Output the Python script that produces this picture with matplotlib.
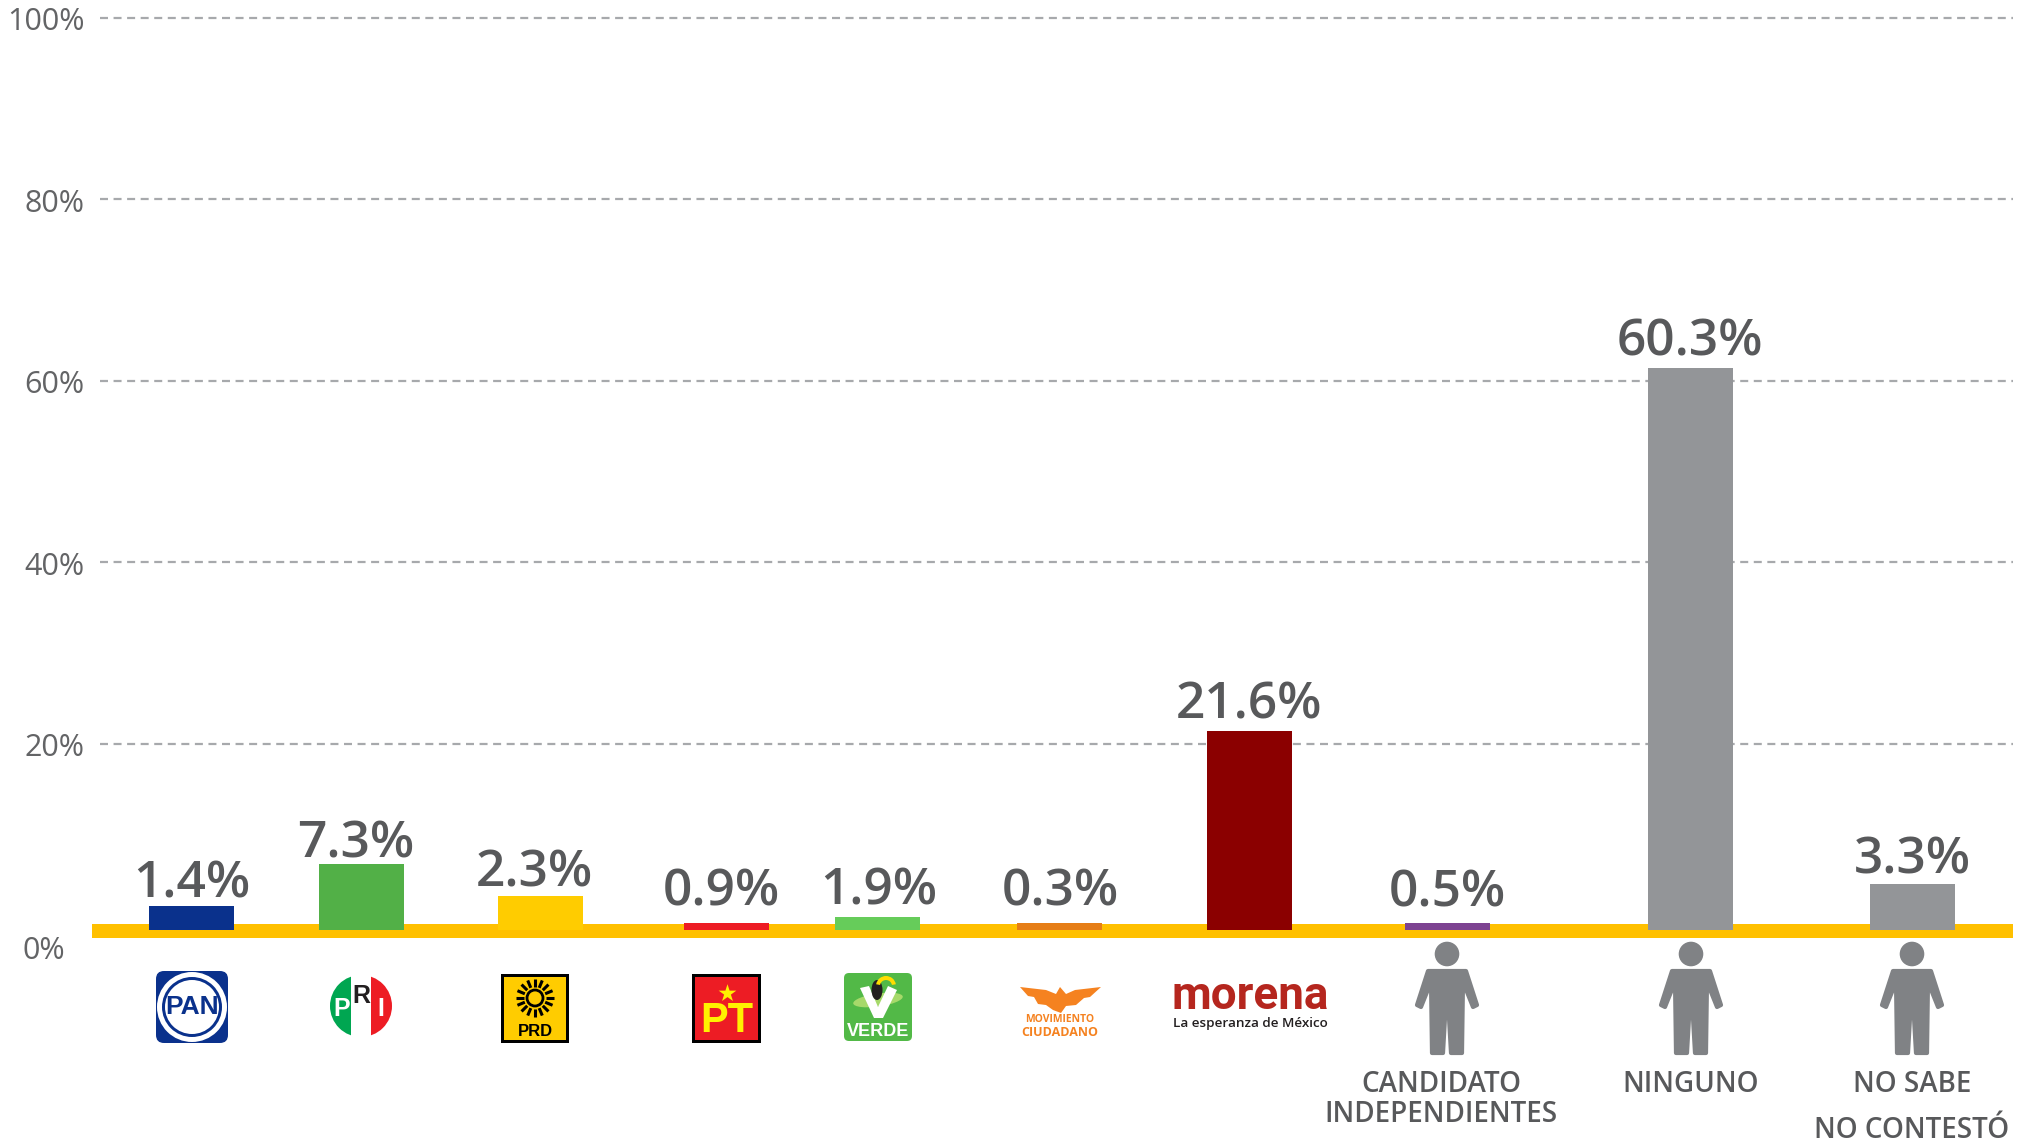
import numpy as np
from matplotlib import pyplot as plt
from matplotlib.patches import Circle, Ellipse, FancyBboxPatch, Polygon, Rectangle, Wedge
from matplotlib.transforms import ScaledTranslation

# bar tops as drawn, the printed labels do not quite agree with them
categories = ["PAN", "PRI", "PRD", "PT", "VERDE", "MC", "MORENA", "CANDIDATO INDEPENDIENTES", "NINGUNO", "NO SABE NO CONTESTO"]
bar_tops = [2.1, 6.7, 3.2, 0.2, 0.9, 0.2, 21.4, 0.2, 61.4, 4.5]
value_labels = ["1.4%", "7.3%", "2.3%", "0.9%", "1.9%", "0.3%", "21.6%", "0.5%", "60.3%", "3.3%"]
y_ticks = [20, 40, 60, 80, 100]
y_tick_labels = ["20%", "40%", "60%", "80%", "100%"]

# layout, in pixels of the 2024x1142 picture
bar_left = [149, 319, 498, 684, 835, 1017, 1207, 1405, 1648, 1870]
label_center = [192, 356, 534, 721, 879, 1060, 1249, 1447, 1690, 1912]
label_gap = [8, 7, 9, 18, 12, 18, 12, 17, 13, 11]
bar_colors = ["#0a318c", "#52b047", "#ffcc00", "#ed1c24", "#66cc5a", "#e67e17", "#8b0000", "#7d4391", "#939598", "#939598"]
BAR_W = 85
PX_PER_UNIT = 9.07
ZERO_Y = 925
BAR_FLOOR = (ZERO_Y - 930) / PX_PER_UNIT

TEXT = "#58595b"
PERSON = "#808285"
SANS = ["Open Sans", "DejaVu Sans"]
plt.rcParams["font.family"] = SANS

fig = plt.figure(figsize=(20.24, 11.42), dpi=100, facecolor="white")
ax = fig.add_axes([100 / 2024, 0, 1913 / 2024, 1], zorder=2)
ax.patch.set_visible(False)
ax.set_xlim(100, 2013)
ax.set_ylim((ZERO_Y - 1142) / PX_PER_UNIT, ZERO_Y / PX_PER_UNIT)
for s in ax.spines.values():
    s.set_visible(False)
ax.set_xticks([])
ax.set_yticks(y_ticks)
ax.set_yticklabels(y_tick_labels, fontsize=22, color="#636466")
ax.tick_params(axis="y", length=0, pad=11)
for tl in ax.get_yticklabels():
    tl.set_transform(tl.get_transform() + ScaledTranslation(0, -0.01, fig.dpi_scale_trans))
ax.set_axisbelow(True)
ax.grid(axis="y", color="#a7a9ac", lw=1.6, linestyle=(0, (3.6, 2.5)))

# overlay in picture pixels for the band, logos and captions
lay = fig.add_axes([0, 0, 1, 1], zorder=1)
lay.set_xlim(0, 2024)
lay.set_ylim(1142, 0)
lay.axis("off")
top = fig.add_axes([0, 0, 1, 1], zorder=3)
top.set_xlim(0, 2024)
top.set_ylim(1142, 0)
top.axis("off")
top.patch.set_visible(False)

lay.add_patch(Rectangle((92, 924), 1921, 14, color="#ffc000", lw=0))

for i in range(len(categories)):
    ax.bar(bar_left[i] + BAR_W / 2, bar_tops[i] - BAR_FLOOR, width=BAR_W, bottom=BAR_FLOOR,
           color=bar_colors[i], lw=0, zorder=3)
    ax.annotate(value_labels[i], (label_center[i], bar_tops[i]), xytext=(0, label_gap[i] * 0.72),
                textcoords="offset points", ha="center", va="baseline", fontsize=37,
                fontweight="semibold", color=TEXT, zorder=4)

top.text(65, 951, "0%", ha="right", va="center", fontsize=22, color="#636466")


def logo_text(x, y, s, size, color):
    top.text(x, y, s, ha="center", va="center", fontsize=size, color=color,
             family=["Liberation Sans", "DejaVu Sans"], fontweight="bold")


# PAN
top.add_patch(FancyBboxPatch((160, 975), 64, 64, boxstyle="round,pad=4,rounding_size=8", color="#0a318c", lw=0))
top.add_patch(Ellipse((192, 1007), 70, 70, color="white", lw=0))
top.add_patch(Ellipse((192, 1007), 60, 60, color="#0a318c", lw=0))
top.add_patch(Ellipse((192, 1007), 54, 54, color="white", lw=0))
logo_text(192, 1007, "PAN", 19, "#0a318c")

# PRI
for cx0, w, c in [(330, 21, "#00a651"), (351, 20, "white"), (371, 21, "#ed1c24")]:
    r = Rectangle((cx0, 975), w, 62, color=c, lw=0)
    top.add_patch(r)
    r.set_clip_path(Circle((361, 1006), 31, transform=top.transData))
logo_text(342, 1009, "P", 18, "white")
logo_text(361, 996, "R", 18, "#231f20")
logo_text(381, 1009, "I", 18, "white")

# PRD
top.add_patch(Rectangle((501, 974), 68, 69, color="black", lw=0))
top.add_patch(Rectangle((504, 977), 62, 63, color="#ffcc00", lw=0))
top.add_patch(Circle((535, 998), 8, facecolor="none", edgecolor="black", lw=2))
for a in np.arange(0, 360, 22.5):
    t = np.radians(a)
    top.plot([535 + 11 * np.cos(t), 535 + 19 * np.cos(t)], [998 + 11 * np.sin(t), 998 + 19 * np.sin(t)],
             color="black", lw=2.2, solid_capstyle="butt")
logo_text(535, 1031, "PRD", 12, "black")

# PT
top.add_patch(Rectangle((692, 974), 69, 69, color="black", lw=0))
top.add_patch(Rectangle((695, 977), 63, 63, color="#ed1c24", lw=0))
top.scatter([727], [993], marker="*", s=180, color="#fff200", lw=0)
logo_text(727, 1021, "PT", 30, "#fff200")

# VERDE
top.add_patch(FancyBboxPatch((847, 976), 62, 62, boxstyle="round,pad=3,rounding_size=5", color="#52b947", lw=0))
top.add_patch(Ellipse((878, 1000), 50, 13, angle=-8, color="#a6d96a", lw=0))
top.add_patch(Polygon([(860, 988), (869, 986), (878, 1007), (888, 986), (897, 990), (883, 1018), (874, 1018)],
                      color="white", lw=0))
top.add_patch(Ellipse((877, 990), 11, 20, color="#231f20", lw=0))
top.add_patch(Wedge((886, 986), 10, 190, 350, width=4, color="#ffdd00", lw=0))
logo_text(878, 1031, "VERDE", 13, "white")

# Movimiento Ciudadano
MC = "#f58220"
top.add_patch(Polygon([(1020, 987), (1046, 990), (1056, 994), (1060, 987), (1066, 994), (1075, 990), (1101, 987),
                      (1090, 997), (1084, 998), (1076, 1005), (1066, 1006), (1061, 1013), (1053, 1010), (1046, 1005),
                      (1038, 1004), (1034, 997), (1028, 996)], color=MC, lw=0))
top.text(1060, 1020, "MOVIMIENTO", ha="center", va="center", fontsize=7.5, color=MC, fontweight="bold")
top.text(1060, 1032, "CIUDADANO", ha="center", va="center", fontsize=9, color=MC, fontweight="bold")

# morena
top.text(1250, 996, "morena", ha="center", va="center", fontsize=33, color="#b5261e", fontweight="bold",
         family=["Roboto", "DejaVu Sans"])
top.text(1250, 1024, "La esperanza de México", ha="center", va="center", fontsize=9.7, color="#231f20",
         fontweight="semibold")


def person(cx):
    top.add_patch(Circle((cx, 954), 12.3, color=PERSON, lw=0))
    half = np.array([(0, 971), (19, 971), (30, 1005), (26, 1007), (16, 982), (15, 1053), (4, 1053), (2, 1018), (0, 1016)])
    pts = np.vstack([half + [cx, 0], (half[::-1] * [-1, 1] + [cx, 0])])
    top.add_patch(Polygon(pts, facecolor=PERSON, edgecolor=PERSON, lw=3, joinstyle="round"))


for cx in [1447, 1691, 1912]:
    person(cx)

captions = [(1441, 1085, "CANDIDATO"), (1441, 1115, "INDEPENDIENTES"), (1691, 1085, "NINGUNO"),
            (1912, 1085, "NO SABE"), (1912, 1131, "NO CONTESTÓ")]
for x, y, s in captions:
    top.text(x, y, s, ha="center", va="center", fontsize=20, fontweight="semibold", color=TEXT)

fig.savefig("out.png", dpi=100)
